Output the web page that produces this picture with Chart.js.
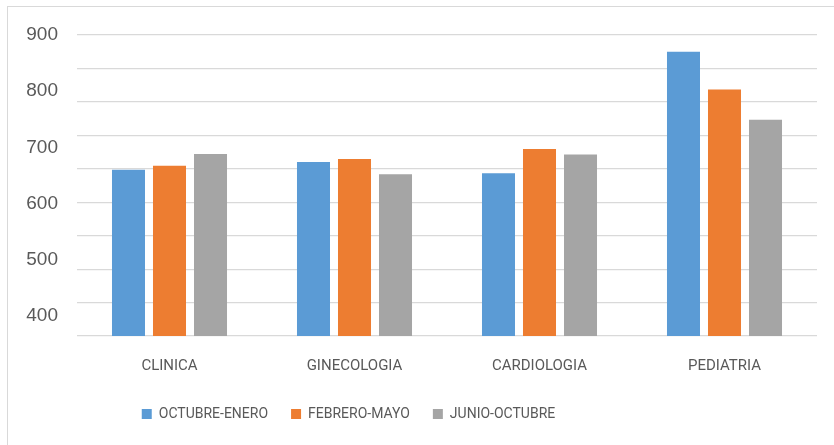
<!DOCTYPE html>
<html>
<head>
<meta charset="utf-8">
<script src="https://cdn.jsdelivr.net/npm/chart.js@4"></script>
<style>
  html, body { margin: 0; padding: 0; background: #fff; }
  #wrap { position: relative; width: 834px; height: 445px; overflow: hidden; }
  #frame { position: absolute; left: 7px; top: 6px; width: 900px; height: 500px;
           border-top: 1px solid #d9d9d9; border-left: 1px solid #d9d9d9; }
  canvas { position: absolute; left: 0; top: 0; }
</style>
</head>
<body>
<div id="wrap">
  <div id="frame"></div>
  <canvas id="chart" width="834" height="445"></canvas>
</div>
<script>
const areas = ["CLINICA", "GINECOLOGIA", "CARDIOLOGIA", "PEDIATRIA"];
const octubreEnero = [660, 674, 654, 870];
const febreroMayo = [667, 679, 697, 803];
const junioOctubre = [688, 652, 687, 749];
const periodNames = ["OCTUBRE-ENERO", "FEBRERO-MAYO", "JUNIO-OCTUBRE"];
const yTicks = [400, 500, 600, 700, 800, 900];

const textColor = "#595959";
const labelFont = "Roboto, 'Liberation Sans', sans-serif";

// moves the legend row left and up, like the original
const legendShift = {
  id: "legendShift",
  afterLayout(chart) {
    const lg = chart.legend;
    lg.left -= 60;
    lg.right -= 60;
    lg.top -= 12;
    lg.bottom -= 12;
  },
};

const ctx = document.getElementById("chart");
const myChart = new Chart(ctx, {
  type: "bar",
  data: {
    labels: areas,
    datasets: [
      { label: periodNames[0], data: octubreEnero, backgroundColor: "#5b9bd5" },
      { label: periodNames[1], data: febreroMayo, backgroundColor: "#ed7d31" },
      { label: periodNames[2], data: junioOctubre, backgroundColor: "#a5a5a5" },
    ],
  },
  options: {
    responsive: false,
    animation: false,
    categoryPercentage: 0.665,
    barPercentage: 0.805,
    layout: { padding: { top: 35, right: 17, left: 0, bottom: 2 } },
    plugins: {
      tooltip: { enabled: false },
      legend: {
        position: "bottom",
        labels: {
          boxWidth: 10,
          boxHeight: 10,
          padding: 23,
          color: textColor,
          font: { family: labelFont, size: 14 },
        },
      },
    },
    scales: {
      x: {
        grid: { display: false, drawTicks: false },
        border: { display: false },
        ticks: { color: textColor, padding: 21, font: { family: labelFont, size: 15 } },
      },
      y: {
        position: "left",
        min: 364,
        max: 900,
        afterBuildTicks(scale) {
          scale.ticks = yTicks.map((v) => ({ value: v }));
        },
        afterFit(scale) { scale.width = 77; },
        grid: { display: false, drawTicks: false },
        border: { display: false },
        ticks: { color: textColor, padding: 19, font: { family: "'Liberation Sans', sans-serif", size: 19 } },
      },
      grid: {
        position: "right",
        min: 0,
        max: 9,
        afterFit(scale) { scale.width = 0; },
        ticks: { display: false, stepSize: 1 },
        grid: { color: "#d9d9d9", lineWidth: 1.2, drawTicks: false },
        border: { display: false },
      },
    },
  },
  plugins: [legendShift],
});
</script>
</body>
</html>
